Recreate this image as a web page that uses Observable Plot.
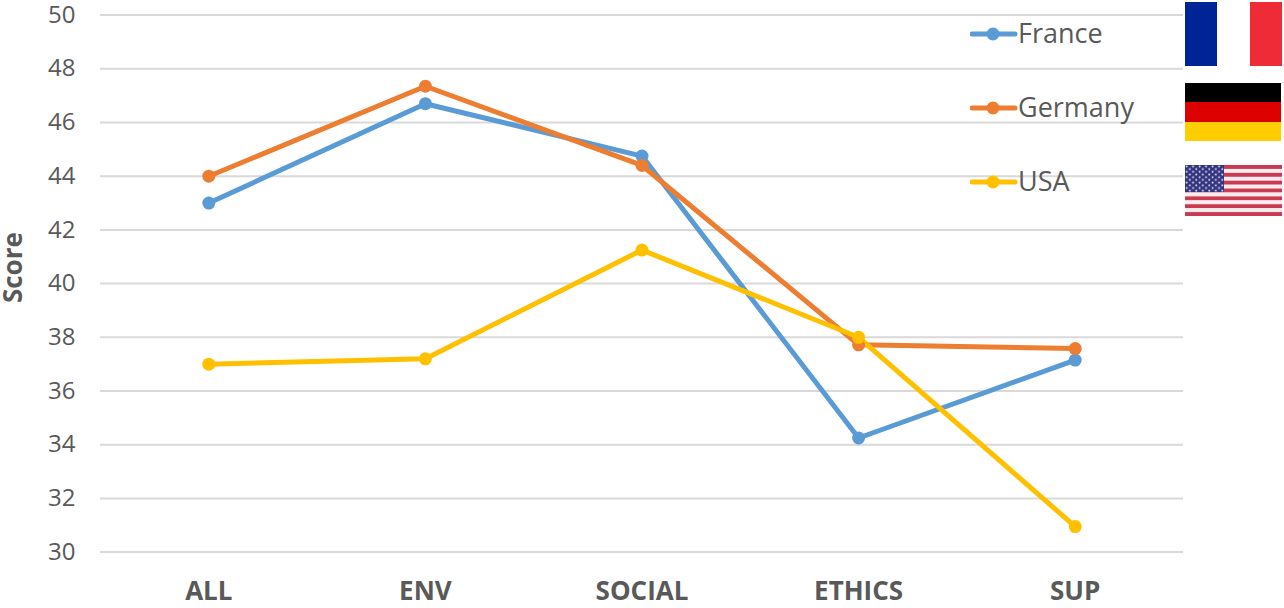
<!DOCTYPE html>
<html><head><meta charset="utf-8">
<script src="https://cdn.jsdelivr.net/npm/d3@7"></script>
<script src="https://cdn.jsdelivr.net/npm/@observablehq/plot@0.6"></script>
<style>
html,body{margin:0;padding:0;background:#fff;overflow:hidden}
#wrap{position:relative;width:1284px;height:608px;font-family:"Open Sans",sans-serif}
#wrap>svg{display:block}
.leg{position:absolute;left:970px;height:40px;width:200px}
.leg svg{position:absolute;left:0;top:0}
.leg span{position:absolute;left:48px;top:-1px;line-height:40px;font-size:27px;color:#595959}
.flag{position:absolute;display:block}
</style></head><body><div id="wrap"></div>
<script>
const categories = ["ALL","ENV","SOCIAL","ETHICS","SUP"];
const seriesNames = ["France","Germany","USA"];
const france = [43, 46.7, 44.75, 34.25, 37.15];
const germany = [44, 47.35, 44.4, 37.72, 37.58];
const usa = [37, 37.2, 41.25, 38, 30.95];
const colors = ["#5B9BD5","#ED7D31","#FFC000"];
const yTicks = [30,32,34,36,38,40,42,44,46,48,50];

const rows = [france,germany,usa].flatMap((vals,s)=>vals.map((v,i)=>({cat:categories[i],series:seriesNames[s],v})));

const chart = Plot.plot({
  width:1284,height:608,
  marginLeft:100,marginRight:101,marginTop:14.6,marginBottom:56.4,
  style:{fontFamily:'"Open Sans",sans-serif',background:"#fff",overflow:"visible"},
  x:{type:"point",domain:categories,padding:0.5,round:false},
  y:{domain:[30,50]},
  color:{domain:seriesNames,range:colors},
  marks:[
    Plot.ruleY(yTicks,{stroke:"#d9d9d9",strokeWidth:2}),
    Plot.axisY({ticks:yTicks,tickSize:0,tickPadding:25,fontSize:24,color:"#595959",label:null,tickFormat:d=>String(d)}),
    Plot.text(["Score"],{frameAnchor:"left",textAnchor:"middle",dx:-87,dy:-16,rotate:-90,fontSize:26,fontWeight:"bold",fill:"#595959"}),
    Plot.axisX({tickSize:0,tickPadding:29,fontSize:26,fontWeight:"bold",color:"#595959",label:null}),
    Plot.line(rows,{x:"cat",y:"v",stroke:"series",z:"series",strokeWidth:5,curve:"linear"}),
    Plot.dot(rows,{x:"cat",y:"v",fill:"series",r:6.5})
  ]
});
const wrap = document.getElementById("wrap");
wrap.appendChild(chart);

seriesNames.forEach((name,i)=>{
  const d=document.createElement("div");d.className="leg";d.style.top=(14+74*i)+"px";
  d.innerHTML=`<svg width="48" height="40"><line x1="2" x2="45" y1="20" y2="20" stroke="${colors[i]}" stroke-width="5" stroke-linecap="round"/><circle cx="23" cy="20" r="6.5" fill="${colors[i]}"/></svg><span>${name}</span>`;
  wrap.appendChild(d);
});

const stripes = d3.range(13).map(k=>`<rect x="0" y="${k*51/13}" width="97" height="${51/13+0.2}" fill="${k%2?'#f9ecee':'#cb3a50'}"/>`).join("");
const flags = [
 {l:1185,t:2,w:97,h:64,svg:`<rect width="32" height="64" fill="#002395"/><rect x="32" width="33" height="64" fill="#fff"/><rect x="65" width="32" height="64" fill="#EF2B38"/>`},
 {l:1185,t:83,w:96,h:58,svg:`<rect width="96" height="19" fill="#000"/><rect y="19" width="96" height="20" fill="#DD0000"/><rect y="39" width="96" height="19" fill="#FFCE00"/>`},
 {l:1185,t:165,w:97,h:51,svg:`<defs><pattern id="st" width="6.5" height="5.4" patternUnits="userSpaceOnUse"><circle cx="1.6" cy="1.4" r="1" fill="#dfe2f2"/><circle cx="4.8" cy="4.1" r="1" fill="#dfe2f2"/></pattern></defs>${stripes}<rect width="39" height="27" fill="#33337f"/><rect width="39" height="27" fill="url(#st)"/>`}
];
flags.forEach(f=>{
  const s=document.createElementNS("http://www.w3.org/2000/svg","svg");
  s.setAttribute("class","flag");s.setAttribute("width",f.w);s.setAttribute("height",f.h);
  s.style.left=f.l+"px";s.style.top=f.t+"px";s.innerHTML=f.svg;wrap.appendChild(s);
});
</script></body></html>
